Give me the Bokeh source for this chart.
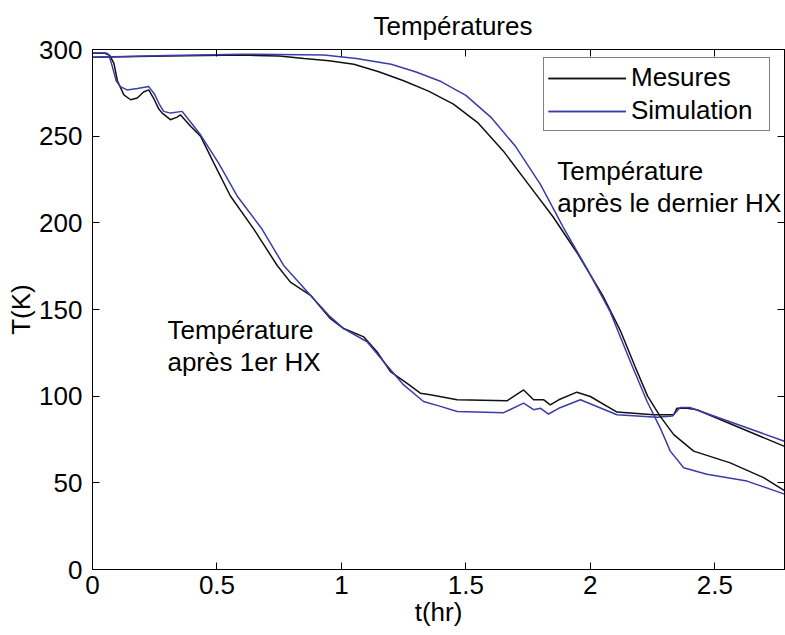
from bokeh.plotting import figure
from bokeh.models import Legend, LegendItem, LinearAxis, Range1d, FixedTicker
from bokeh.embed import file_html
from bokeh.resources import INLINE
from bokeh.core.properties import value

FONT = "Liberation Sans"

# Temperature after the 1st heat exchanger
t_hx1_mes = [0.00, 0.05, 0.07, 0.086, 0.10, 0.126, 0.153, 0.18, 0.205, 0.226, 0.245, 0.265, 0.28,
             0.313, 0.34, 0.353, 0.394, 0.434, 0.487, 0.554, 0.648, 0.742, 0.795, 0.876, 0.956,
             1.009, 1.09, 1.143, 1.197, 1.264, 1.317, 1.357, 1.465, 1.665, 1.732, 1.772, 1.813,
             1.839, 1.873, 1.946, 2.0, 2.107, 2.254, 2.335, 2.348, 2.388, 2.428, 2.78]
T_hx1_mes = [297.8, 297.8, 296.5, 292, 282, 273.8, 271, 272, 275.5, 276.7, 272, 266, 263.3,
             259.5, 261, 262.3, 255.7, 250, 234.6, 215.5, 196.4, 175.4, 165.8, 158.2, 144.7,
             139, 134.2, 125.6, 114.2, 107.4, 101.7, 100.8, 97.9, 97.3, 103.6, 97.9, 97.9,
             95, 97.9, 102.3, 99.8, 90.8, 89.3, 89.3, 93.1, 93, 92.2, 71]

t_hx1_sim = [0.00, 0.055, 0.066, 0.08, 0.095, 0.112, 0.139, 0.18, 0.226, 0.25, 0.27, 0.286,
             0.313, 0.36, 0.40, 0.434, 0.506, 0.581, 0.681, 0.768, 0.88, 0.95, 1.009, 1.103,
             1.17, 1.25, 1.33, 1.398, 1.465, 1.652, 1.732, 1.772, 1.80, 1.832, 1.873, 1.96,
             2.107, 2.268, 2.33, 2.361, 2.40, 2.78]
T_hx1_sim = [298, 298, 297, 290, 282, 278.6, 276.7, 277.5, 278.6, 274, 268, 264.3,
             263.3, 264.3, 257, 250.8, 234.6, 215.5, 196.4, 175.4, 157.5, 146.5, 139, 131.4,
             119.9, 106.5, 96.9, 94.1, 91.2, 90.5, 96, 92.2, 93, 89.7, 93, 97.9,
             89.3, 87.8, 88.5, 93.5, 93.5, 74]

# Temperature after the last heat exchanger
t_last_mes = [0.00, 0.30, 0.60, 0.75, 0.85, 0.95, 1.05, 1.15, 1.25, 1.35, 1.45, 1.55, 1.65,
              1.75, 1.85, 1.95, 2.05, 2.12, 2.18, 2.23, 2.28, 2.335, 2.415, 2.562, 2.696, 2.78]
T_last_mes = [295.5, 296.2, 296.8, 296.2, 294.8, 293.5, 291.5, 287.2, 282, 276, 268.5, 257.5,
              241.5, 222.5, 203.5, 182, 158, 138, 117, 100, 88.5, 77.8, 68.3, 61.5, 53, 45.5]

t_last_sim = [0.00, 0.30, 0.60, 0.93, 1.06, 1.2, 1.3, 1.4, 1.5, 1.6, 1.7, 1.8, 1.893, 1.987,
              2.08, 2.161, 2.228, 2.281, 2.321, 2.375, 2.468, 2.629, 2.78]
T_last_sim = [295.5, 296.5, 297.3, 296.8, 294.8, 291.5, 287, 281.5, 273.5, 261, 244, 222,
              197, 173.4, 148.6, 119.9, 96.9, 81.6, 68.3, 58.7, 54.9, 51, 43.5]

x_ticks = [0, 0.5, 1, 1.5, 2, 2.5]
x_tick_labels = ["0", "0.5", "1", "1.5", "2", "2.5"]
y_ticks = [0, 50, 100, 150, 200, 250, 300]

BLACK = "#111111"
BLUE = "#3c3ca8"

p = figure(width=785, height=635, output_backend="svg", toolbar_location=None,
           x_range=Range1d(0, 2.78), y_range=Range1d(0, 300),
           min_border_left=92, min_border_right=1, min_border_top=46, min_border_bottom=66,
           x_axis_label="t(hr)", y_axis_label="T(K)")

p.background_fill_color = "white"
p.border_fill_color = "white"
p.outline_line_color = "black"
p.outline_line_width = 1
p.xgrid.visible = False
p.ygrid.visible = False

p.title.text = "Températures"
p.title.align = "left"
p.title.offset = 281
p.title.standoff = 17
p.title.text_font = FONT
p.title.text_font_size = "26px"
p.title.text_font_style = "normal"
p.title.text_color = "black"

xa = p.xaxis[0]
ya = p.yaxis[0]
xa.ticker = FixedTicker(ticks=x_ticks)
xa.major_label_overrides = {k: v for k, v in zip(x_ticks, x_tick_labels)}
ya.ticker = FixedTicker(ticks=y_ticks)
for ax in (xa, ya):
    ax.major_label_text_font = FONT
    ax.major_label_text_font_size = "26px"
    ax.major_label_text_color = "black"
    ax.axis_label_text_font = FONT
    ax.axis_label_text_font_size = "26px"
    ax.axis_label_text_font_style = "normal"
    ax.axis_label_text_color = "black"
    ax.axis_line_color = "black"
    ax.major_tick_line_color = "black"
    ax.major_tick_in = 7
    ax.major_tick_out = 0
    ax.minor_tick_line_color = None
xa.major_label_standoff = 6
xa.axis_label_standoff = 0
ya.major_label_standoff = 10
ya.axis_label_standoff = 0

top_ax = LinearAxis(ticker=FixedTicker(ticks=x_ticks), major_label_text_font_size="1px",
                    major_label_text_color=None,
                    major_label_standoff=0, major_tick_in=7, major_tick_out=0,
                    minor_tick_line_color=None, axis_line_color="black",
                    major_tick_line_color="black")
right_ax = LinearAxis(ticker=FixedTicker(ticks=y_ticks), major_label_text_font_size="1px",
                      major_label_text_color=None,
                      major_label_standoff=0, major_tick_in=7, major_tick_out=0,
                      minor_tick_line_color=None, axis_line_color="black",
                      major_tick_line_color="black")
p.add_layout(top_ax, "above")
p.add_layout(right_ax, "right")

r1 = p.line(t_hx1_mes, T_hx1_mes, line_color=BLACK, line_width=1.5)
r2 = p.line(t_hx1_sim, T_hx1_sim, line_color=BLUE, line_width=1.5)
r3 = p.line(t_last_mes, T_last_mes, line_color=BLACK, line_width=1.5)
r4 = p.line(t_last_sim, T_last_sim, line_color=BLUE, line_width=1.5)

p.text(x=[0.301, 0.301], y=[138.2, 119.9], text=["Température", "après 1er HX"],
       text_font=value(FONT), text_font_size="26px", text_baseline="middle",
       text_align="left", text_color="black")
p.text(x=[1.867, 1.867], y=[230, 211.7], text=["Température", "après le dernier HX"],
       text_font=value(FONT), text_font_size="26px", text_baseline="middle",
       text_align="left", text_color="black")

legend = Legend(items=[LegendItem(label="Mesures", renderers=[r1, r3]),
                       LegendItem(label="Simulation", renderers=[r2, r4])],
                location=(451, 438), margin=0, padding=4, spacing=2,
                glyph_width=78, glyph_height=20, label_standoff=5, label_width=134,
                label_text_font=FONT, label_text_font_size="26px",
                label_text_color="black",
                border_line_color="black", border_line_width=1.5,
                background_fill_color="white", background_fill_alpha=1.0)
p.add_layout(legend)

open("out.html", "w").write(file_html(p, INLINE))
